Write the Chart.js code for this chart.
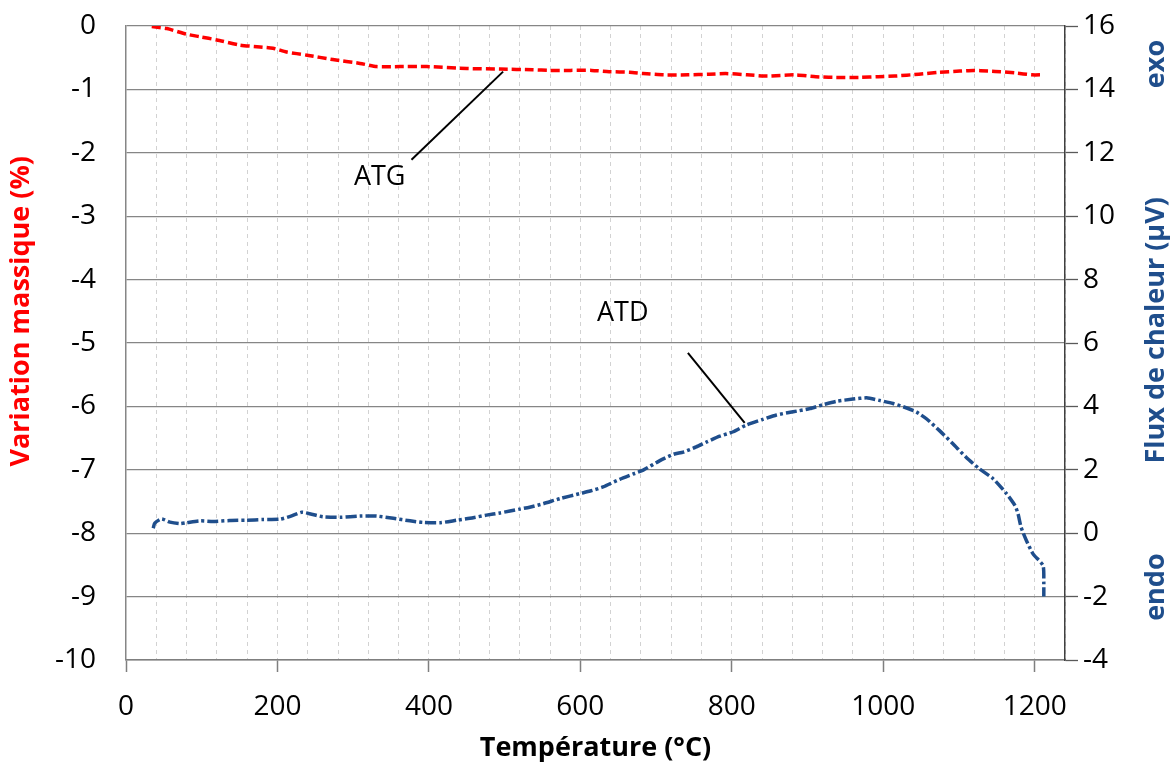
<!DOCTYPE html>
<html>
<head>
<meta charset="utf-8">
<title>ATG / ATD</title>
<script src="https://cdn.jsdelivr.net/npm/chart.js@4.4.1/dist/chart.umd.min.js"></script>
<style>
  body { margin: 0; background: #fff; }
  #chart { display: block; }
</style>
</head>
<body>
<canvas id="chart" width="1173" height="762"></canvas>
<script>
// Courbe ATG : température (°C) et variation massique (%)
var atgTemp = [34, 54, 80, 98, 120, 150, 177, 194, 212, 239, 273, 309, 331, 362, 397, 450, 494, 537, 560, 587,
  615, 638, 665, 683, 710, 742, 770, 792, 820, 847, 883, 911, 933, 970, 993, 1015, 1047, 1074, 1101, 1119,
  1138, 1155, 1174, 1196, 1211];
var atgMass = [-0.01, -0.04, -0.13, -0.17, -0.22, -0.30, -0.33, -0.35, -0.41, -0.46, -0.53, -0.59, -0.64, -0.64, -0.64, -0.67, -0.68, -0.69, -0.70, -0.70,
  -0.70, -0.72, -0.73, -0.75, -0.77, -0.77, -0.76, -0.75, -0.77, -0.79, -0.77, -0.80, -0.81, -0.81, -0.80, -0.79, -0.76, -0.73, -0.71, -0.70,
  -0.71, -0.72, -0.74, -0.77, -0.77];

// Courbe ATD : température (°C) et flux de chaleur (µV)
var atdTemp = [36, 38, 47, 58, 71, 80, 98, 115, 137, 159, 181, 203, 217, 232, 245, 260, 283, 309, 331, 353,
  375, 392, 415, 437, 454, 476, 494, 520, 533, 551, 573, 599, 613, 630, 652, 670, 683, 705, 723, 736,
  753, 767, 784, 802, 819, 841, 859, 881, 903, 920, 938, 960, 978, 995, 1013, 1031, 1044, 1057, 1075, 1092,
  1110, 1127, 1145, 1163, 1174, 1178, 1182, 1189, 1198, 1211, 1212, 1212];
var atdFlux = [0.16, 0.32, 0.45, 0.35, 0.30, 0.33, 0.39, 0.37, 0.40, 0.41, 0.43, 0.44, 0.53, 0.66, 0.60, 0.52, 0.50, 0.54, 0.54, 0.47,
  0.39, 0.34, 0.33, 0.41, 0.47, 0.57, 0.64, 0.76, 0.82, 0.93, 1.09, 1.25, 1.33, 1.46, 1.70, 1.87, 1.99, 2.29, 2.49, 2.56,
  2.72, 2.88, 3.06, 3.20, 3.41, 3.59, 3.73, 3.83, 3.93, 4.05, 4.16, 4.23, 4.27, 4.19, 4.09, 3.95, 3.82, 3.61, 3.22, 2.82,
  2.38, 2.03, 1.72, 1.24, 0.87, 0.61, 0.19, -0.23, -0.66, -1.02, -1.55, -2.0];

// Traits de rappel des étiquettes
var atgLeaderTemp = [377, 498];
var atgLeaderMass = [-2.11, -0.72];
var atdLeaderTemp = [742, 817];
var atdLeaderFlux = [5.69, 3.48];

// Étiquettes (texte, température, valeur, axe)
var labelText = ['ATG', 'ATD'];
var labelTemp = [335, 656];
var labelValue = [-2.38, 6.95];
var labelAxis = ['y', 'y2'];

// Titres et repères le long des axes verticaux (texte, axe, valeur au centre)
var sideText = ['Variation massique (%)', 'Flux de chaleur (µV)', 'exo', 'endo'];
var sideAxis = ['y', 'y2', 'y2', 'y2'];
var sideValue = [-4.5, 6.4, 14.8, -1.7];

// Graduations
var xMax = 1240;
var xLabelStep = 200;
var xMinorStep = 40;

var FONT = '"Open Sans", "Noto Sans", sans-serif';
var BLUE = '#1f4e8c';
var RED = '#ff0000';

function toPoints(xs, ys) {
  return xs.map(function(x, i) { return { x: x, y: ys[i] }; });
}

// largeur fixe de l'axe, sans la marge ajoutée pour les étiquettes
function fixWidth(w) {
  return function(s) {
    s.width = w;
    s.paddingTop = 0;
    s.paddingBottom = 0;
  };
}

var annotationPlugin = {
  id: 'annotations',
  afterDatasetsDraw: function(chart) {
    var ctx = chart.ctx;
    var x = chart.scales.x;
    ctx.save();
    ctx.fillStyle = '#000';
    ctx.font = '27px ' + FONT;
    ctx.textAlign = 'center';
    ctx.textBaseline = 'middle';
    labelText.forEach(function(t, i) {
      var y = chart.scales[labelAxis[i]];
      ctx.fillText(t, x.getPixelForValue(labelTemp[i]), y.getPixelForValue(labelValue[i]));
    });

    // titres verticaux, lus de bas en haut
    ctx.font = 'bold 27px ' + FONT;
    sideText.forEach(function(t, i) {
      var left = sideAxis[i] === 'y';
      ctx.save();
      ctx.fillStyle = left ? RED : BLUE;
      ctx.translate(left ? 21 : chart.width - 17, chart.scales[sideAxis[i]].getPixelForValue(sideValue[i]));
      ctx.rotate(-Math.PI / 2);
      ctx.fillText(t, 0, 0);
      ctx.restore();
    });
    ctx.restore();
  }
};

var chart = new Chart(document.getElementById('chart'), {
  type: 'scatter',
  data: {
    datasets: [
      {
        label: 'ATG',
        data: toPoints(atgTemp, atgMass),
        yAxisID: 'y',
        showLine: true,
        borderColor: RED,
        borderWidth: 3.5,
        borderDash: [9, 4],
        pointRadius: 0,
        tension: 0.2
      }, {
        label: 'ATD',
        data: toPoints(atdTemp, atdFlux),
        yAxisID: 'y2',
        showLine: true,
        borderColor: BLUE,
        borderWidth: 3.5,
        borderDash: [11, 3, 3, 3],
        pointRadius: 0,
        tension: 0.2
      }, {
        data: toPoints(atgLeaderTemp, atgLeaderMass),
        yAxisID: 'y',
        showLine: true,
        borderColor: '#000',
        borderWidth: 2,
        pointRadius: 0
      }, {
        data: toPoints(atdLeaderTemp, atdLeaderFlux),
        yAxisID: 'y2',
        showLine: true,
        borderColor: '#000',
        borderWidth: 2,
        pointRadius: 0
      }
    ]
  },
  options: {
    responsive: false,
    animation: false,
    devicePixelRatio: 1,
    layout: { padding: { top: 26, left: 0, right: 0, bottom: 0 } },
    plugins: {
      legend: { display: false },
      tooltip: { enabled: false }
    },
    scales: {
      x: {
        type: 'linear',
        min: 0,
        max: xMax,
        afterFit: function(s) { s.height = 102; s.paddingLeft = 0; s.paddingRight = 0; },
        border: { color: '#7f7f7f', width: 1.5, dash: [4, 4] },
        grid: {
          color: function(c) { return c.tick.value === 0 ? 'transparent' : '#d2d2d2'; },
          lineWidth: 1,
          drawTicks: true,
          tickLength: 12,
          tickBorderDash: [],
          tickWidth: 1.5,
          tickColor: function(c) { return c.tick.value % xLabelStep === 0 ? '#7f7f7f' : 'transparent'; }
        },
        ticks: {
          stepSize: xMinorStep,
          autoSkip: false,
          maxRotation: 0,
          padding: 18,
          color: '#000',
          font: { family: FONT, size: 28 },
          callback: function(v) { return v % xLabelStep === 0 && v <= 1200 ? v : ''; }
        },
        title: {
          display: true,
          text: 'Température (°C)',
          color: '#000',
          font: { family: FONT, size: 27, weight: 'bold', lineHeight: 1 },
          padding: { top: 0, bottom: 0 }
        }
      },
      y: {
        position: 'left',
        min: -10,
        max: 0,
        afterFit: fixWidth(126),
        border: { color: '#868686', width: 1.5 },
        grid: { color: '#868686', lineWidth: 1.3, drawTicks: false },
        ticks: {
          stepSize: 1,
          padding: 30,
          color: '#000',
          font: { family: FONT, size: 28 }
        }
      },
      y2: {
        position: 'right',
        min: -4,
        max: 16,
        afterFit: fixWidth(108),
        border: { color: '#404040', width: 1.5 },
        grid: { drawOnChartArea: false, drawTicks: true, tickLength: 13, tickColor: '#595959', tickWidth: 1.3 },
        ticks: {
          stepSize: 2,
          padding: 5,
          color: '#000',
          font: { family: FONT, size: 28 }
        }
      }
    }
  },
  plugins: [annotationPlugin]
});
</script>
</body>
</html>
